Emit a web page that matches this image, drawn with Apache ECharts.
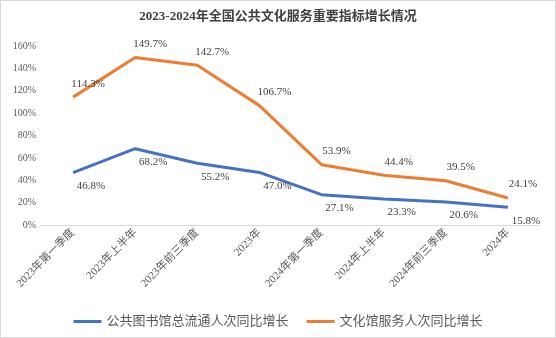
<!DOCTYPE html>
<html><head><meta charset="utf-8">
<script src="https://cdn.jsdelivr.net/npm/echarts@6/dist/echarts.min.js"></script>
<style>
html,body{margin:0;padding:0;background:#fff;}
#c{position:absolute;left:0;top:0;width:554px;height:336px;border:1px solid #d9d9d9;}
</style></head>
<body><div id="c"></div>
<script>
const categories = ['2023年第一季度','2023年上半年','2023年前三季度','2023年','2024年第一季度','2024年上半年','2024年前三季度','2024年'];
const libraryGrowth = [46.8, 68.2, 55.2, 47.0, 27.1, 23.3, 20.6, 15.8];
const cultureGrowth = [114.3, 149.7, 142.7, 106.7, 53.9, 44.4, 39.5, 24.1];
const yTicks = [0, 20, 40, 60, 80, 100, 120, 140, 160];

const FONT = '"Liberation Serif", "Noto Sans CJK SC", serif';
const chart = echarts.init(document.getElementById('c'));
chart.setOption({
  animation: false,
  textStyle: {fontFamily: FONT},
  title: {
    text: '2023-2024年全国公共文化服务重要指标增长情况',
    left: 'center', top: 4,
    textStyle: {fontSize: 13, fontWeight: 'bold', color: '#404040', fontFamily: FONT}
  },
  legend: {
    bottom: 4, left: 'center',
    itemWidth: 28, itemHeight: 3, itemGap: 18,
    icon: 'rect',
    textStyle: {fontSize: 13, color: '#595959', fontFamily: FONT},
    data: ['公共图书馆总流通人次同比增长', '文化馆服务人次同比增长']
  },
  grid: {left: 41, right: 16, top: 45, bottom: 112},
  xAxis: {
    type: 'category', data: categories, boundaryGap: true,
    axisLine: {lineStyle: {color: '#d9d9d9'}},
    axisTick: {show: false},
    axisLabel: {rotate: 45, fontSize: 11, color: '#595959', margin: 6, interval: 0, fontFamily: FONT}
  },
  yAxis: {
    type: 'value', min: yTicks[0], max: yTicks[yTicks.length-1], interval: 20,
    splitLine: {show: false},
    axisLine: {show: false}, axisTick: {show: false},
    axisLabel: {formatter: '{value}%', fontSize: 10, color: '#595959', margin: 6, fontFamily: FONT}
  },
  series: [
    {
      name: '公共图书馆总流通人次同比增长', type: 'line', data: libraryGrowth,
      symbol: 'circle', symbolSize: 0, showSymbol: true,
      lineStyle: {width: 3, color: '#4472C4'}, itemStyle: {color: '#4472C4'},
      label: {show: true, position: 'bottom', distance: 4, offset: [18, 4], formatter: p => p.value.toFixed(1) + '%',
        fontSize: 11, color: '#404040', fontFamily: FONT}
    },
    {
      name: '文化馆服务人次同比增长', type: 'line', data: cultureGrowth,
      symbol: 'circle', symbolSize: 0, showSymbol: true,
      lineStyle: {width: 3, color: '#ED7D31'}, itemStyle: {color: '#ED7D31'},
      label: {show: true, position: 'top', distance: 4, offset: [15, -4], formatter: p => p.value.toFixed(1) + '%',
        fontSize: 11, color: '#404040', fontFamily: FONT}
    }
  ]
});
</script></body></html>
